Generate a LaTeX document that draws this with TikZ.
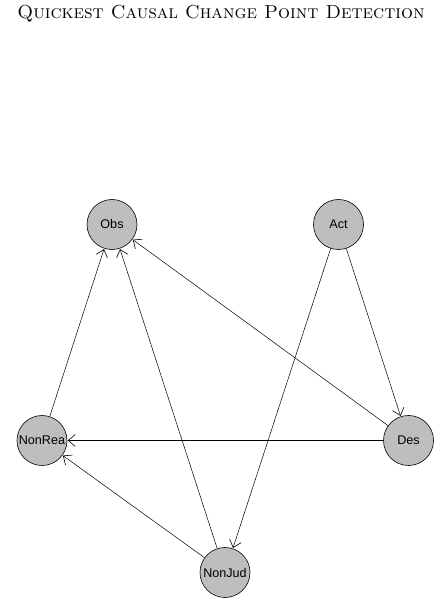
\documentclass[tikz,border=0pt]{standalone}
\usepackage{fontspec}
\newfontfamily\nodefont{Liberation Sans}
\usetikzlibrary{arrows.meta}
\begin{document}
\begin{tikzpicture}[x=1pt,y=1pt,
  vertex/.style={circle,draw=black,fill={rgb,255:red,190;green,190;blue,190},minimum size=50pt,inner sep=0pt,font=\nodefont\fontsize{12.6}{12.6}\selectfont,line width=0.6pt},
  edge/.style={-{Straight Barb[length=7pt,width=12pt,line width=0.6pt]},line width=0.5pt,shorten >=0.5pt}]
\useasboundingbox (0,0) rectangle (443,605);
\node[font=\fontsize{18.8}{22}\selectfont\scshape,anchor=base,inner sep=0pt] (title) at (221,586.5) {Quickest Causal Change Point Detection};
\node[vertex] (obs) at (112,380.5) {Obs};
\node[vertex] (act) at (338.5,380.5) {Act};
\node[vertex] (nonrea) at (42,164.5) {NonRea};
\node[vertex] (des) at (408.5,164.5) {Des};
\node[vertex] (nonjud) at (225,32.5) {NonJud};
\draw[edge] (nonrea) -- (obs);
\draw[edge] (nonjud) -- (obs);
\draw[edge] (des) -- (obs);
\draw[edge] (act) -- (des);
\draw[edge] (act) -- (nonjud);
\draw[edge] (des) -- (nonrea);
\draw[edge] (nonjud) -- (nonrea);
\end{tikzpicture}
\end{document}
